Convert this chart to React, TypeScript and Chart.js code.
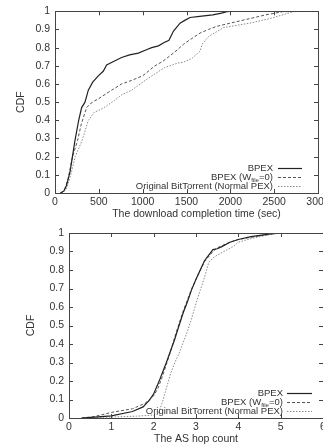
import React, { useEffect, useRef } from "react";
import { Chart, registerables } from "chart.js";

Chart.register(...registerables);

// ---------- Data: top chart (download completion time) ----------
const timeTicks = [0, 500, 1000, 1500, 2000, 2500, 3000];
const cdfTicks = [0, 0.1, 0.2, 0.3, 0.4, 0.5, 0.6, 0.7, 0.8, 0.9, 1];

const bpexTime = [60, 100, 130, 171, 228, 270, 304, 342, 380, 430, 494, 550, 589, 650, 760, 850, 950, 1050, 1103, 1180, 1240, 1300, 1350, 1426, 1480, 1540, 1650, 1800, 1900, 1960, 2000, 2500, 2900];
const bpexTimeCdf = [0, 0.01, 0.04, 0.115, 0.29, 0.40, 0.47, 0.50, 0.566, 0.61, 0.645, 0.67, 0.705, 0.72, 0.746, 0.76, 0.77, 0.79, 0.80, 0.81, 0.827, 0.84, 0.89, 0.935, 0.95, 0.966, 0.972, 0.98, 0.99, 0.998, 1, 1, 1];

const bpexW0Time = [70, 110, 150, 200, 258, 300, 361, 400, 445, 500, 646, 760, 875, 1000, 1141, 1230, 1312, 1400, 1464, 1560, 1654, 1750, 1844, 2000, 2224, 2400, 2600, 2900];
const bpexW0TimeCdf = [0, 0.02, 0.08, 0.2, 0.29, 0.38, 0.47, 0.49, 0.505, 0.52, 0.566, 0.60, 0.62, 0.645, 0.70, 0.725, 0.755, 0.79, 0.818, 0.85, 0.88, 0.90, 0.917, 0.935, 0.96, 0.98, 0.998, 1];

const origTime = [80, 130, 180, 230, 310, 380, 450, 500, 560, 680, 760, 875, 1000, 1141, 1250, 1400, 1464, 1560, 1654, 1680, 1750, 1920, 2224, 2450, 2720, 2900];
const origTimeCdf = [0, 0.02, 0.1, 0.2, 0.29, 0.40, 0.445, 0.455, 0.47, 0.51, 0.54, 0.566, 0.61, 0.656, 0.69, 0.715, 0.72, 0.74, 0.78, 0.82, 0.86, 0.91, 0.935, 0.96, 0.998, 1];

// ---------- Data: bottom chart (AS hop count) ----------
const hopTicks = [0, 1, 2, 3, 4, 5, 6];

const bpexHop = [0.3, 0.6, 1.0, 1.5, 1.75, 1.9, 2.0, 2.14, 2.3, 2.41, 2.49, 2.6, 2.7, 2.8, 2.89, 3.0, 3.1, 3.2, 3.3, 3.4, 3.5, 3.6, 3.8, 4.0, 4.3, 4.6, 4.9];
const bpexHopCdf = [0, 0.005, 0.012, 0.035, 0.06, 0.097, 0.13, 0.205, 0.30, 0.37, 0.42, 0.50, 0.57, 0.63, 0.69, 0.75, 0.80, 0.85, 0.88, 0.91, 0.915, 0.925, 0.95, 0.965, 0.98, 0.99, 1.0];

const bpexW0Hop = [0.3, 0.6, 1.0, 1.5, 1.8, 2.0, 2.1, 2.2, 2.3, 2.4, 2.5, 2.6, 2.7, 2.8, 2.9, 3.0, 3.2, 3.4, 3.5, 3.8, 4.0, 4.5, 5.0];
const bpexW0HopCdf = [0, 0.008, 0.03, 0.05, 0.08, 0.12, 0.16, 0.22, 0.29, 0.36, 0.44, 0.51, 0.58, 0.64, 0.70, 0.75, 0.845, 0.90, 0.92, 0.95, 0.965, 0.985, 1];

const origHop = [0.3, 1.0, 1.6, 2.0, 2.1, 2.2, 2.3, 2.4, 2.5, 2.6, 2.7, 2.8, 2.9, 3.0, 3.1, 3.2, 3.3, 3.4, 3.5, 3.7, 3.9, 4.0, 4.3, 4.7, 5.0];
const origHopCdf = [0, 0.005, 0.01, 0.016, 0.02, 0.08, 0.16, 0.24, 0.30, 0.35, 0.41, 0.47, 0.54, 0.62, 0.69, 0.76, 0.84, 0.865, 0.88, 0.905, 0.93, 0.95, 0.97, 0.99, 1];

// ---------- Labels ----------
const seriesLabels = ["BPEX", "BPEX (W_file=0)", "Original BitTorrent (Normal PEX)"];
const yTitle = "CDF";
const topXTitle = "The download completion time (sec)";
const bottomXTitle = "The AS hop count";

const FONT = "'Liberation Sans', Arial, sans-serif";
const TEXT = "#333";
const styles = [
  { color: "#222", dash: [] as number[], width: 1.2 },
  { color: "#555", dash: [3, 2], width: 1 },
  { color: "#8a8a8a", dash: [1.5, 1.5], width: 1 },
];

const toPts = (xs: number[], ys: number[]) => xs.map((x, i) => ({ x, y: ys[i] }));

const framePlugin = {
  id: "frame",
  afterDatasetsDraw(chart: any) {
    const { ctx, chartArea: a, scales } = chart;
    ctx.save();
    ctx.strokeStyle = "#444";
    ctx.lineWidth = 1;
    ctx.setLineDash([]);
    ctx.strokeRect(Math.round(a.left) + 0.5, Math.round(a.top) + 0.5, Math.round(a.right - a.left), Math.round(a.bottom - a.top));
    const L = 4;
    ctx.beginPath();
    scales.x.ticks.forEach((t: any) => {
      const px = Math.round(scales.x.getPixelForValue(t.value)) + 0.5;
      ctx.moveTo(px, a.bottom);
      ctx.lineTo(px, a.bottom - L);
      ctx.moveTo(px, a.top);
      ctx.lineTo(px, a.top + L);
    });
    scales.y.ticks.forEach((t: any) => {
      const py = Math.round(scales.y.getPixelForValue(t.value)) + 0.5;
      ctx.moveTo(a.left, py);
      ctx.lineTo(a.left + L, py);
      ctx.moveTo(a.right, py);
      ctx.lineTo(a.right - L, py);
    });
    ctx.stroke();
    ctx.restore();
  },
};

const xTitlePlugin = {
  id: "xTitle",
  afterDraw(chart: any, _args: any, opts: any) {
    const { ctx, chartArea: a } = chart;
    ctx.save();
    ctx.fillStyle = TEXT;
    ctx.font = `10.5px ${FONT}`;
    ctx.textAlign = "center";
    ctx.textBaseline = "middle";
    ctx.fillText(opts.text, (a.left + a.right) / 2 + opts.dx, a.bottom + opts.dy);
    ctx.restore();
  },
};

function drawLabel(ctx: CanvasRenderingContext2D, label: string, xRight: number, y: number, size: number) {
  const m = label.match(/^(.*)_(\w+)(.*)$/);
  ctx.textBaseline = "middle";
  ctx.textAlign = "left";
  if (!m) {
    ctx.font = `${size}px ${FONT}`;
    const w = ctx.measureText(label).width;
    ctx.fillText(label, xRight - w, y);
    return;
  }
  const [, pre, sub, post] = m;
  const subSize = size * 0.65;
  ctx.font = `${size}px ${FONT}`;
  const w1 = ctx.measureText(pre).width;
  const w3 = ctx.measureText(post).width;
  ctx.font = `${subSize}px ${FONT}`;
  const w2 = ctx.measureText(sub).width;
  let x = xRight - (w1 + w2 + w3);
  ctx.font = `${size}px ${FONT}`;
  ctx.fillText(pre, x, y);
  x += w1;
  ctx.font = `${subSize}px ${FONT}`;
  ctx.fillText(sub, x, y + 3);
  x += w2;
  ctx.font = `${size}px ${FONT}`;
  ctx.fillText(post, x, y);
}

const legendPlugin = {
  id: "cornerLegend",
  afterDatasetsDraw(chart: any, _args: any, opts: any) {
    const { ctx, chartArea: a } = chart;
    ctx.save();
    ctx.fillStyle = TEXT;
    chart.data.datasets.forEach((ds: any, i: number) => {
      const y = a.bottom + opts.rows[i];
      drawLabel(ctx, ds.label, a.right - opts.textRight, y, opts.size);
      ctx.beginPath();
      ctx.strokeStyle = ds.borderColor;
      ctx.lineWidth = ds.borderWidth;
      ctx.setLineDash(ds.borderDash || []);
      ctx.moveTo(a.right - opts.lineStart, y + 0.5);
      ctx.lineTo(a.right - opts.lineEnd, y + 0.5);
      ctx.stroke();
    });
    ctx.restore();
  },
};

type Cfg = {
  series: { xs: number[]; ys: number[] }[];
  xTicks: number[];
  xMax: number;
  xTitle: string;
  xTitleDx: number;
  padLeft: number;
  yWidth: number;
  padTop: number;
  padRight: number;
  legend: any;
};

function CdfChart({ cfg, width, height }: { cfg: Cfg; width: number; height: number }) {
  const ref = useRef<HTMLCanvasElement>(null);
  useEffect(() => {
    if (!ref.current) return;
    const chart = new Chart(ref.current, {
      type: "line",
      data: {
        datasets: cfg.series.map((s, i) => ({
          label: seriesLabels[i],
          data: toPts(s.xs, s.ys),
          borderColor: styles[i].color,
          borderDash: styles[i].dash,
          borderWidth: styles[i].width,
          pointRadius: 0,
          tension: 0,
          fill: false,
        })),
      },
      options: {
        animation: false,
        responsive: false,
        devicePixelRatio: 1,
        layout: { padding: { left: cfg.padLeft, right: cfg.padRight, top: cfg.padTop, bottom: 0 } },
        plugins: {
          legend: { display: false },
          tooltip: { enabled: false },
          cornerLegend: cfg.legend,
          xTitle: { text: cfg.xTitle, dx: cfg.xTitleDx, dy: 21 },
        } as any,
        scales: {
          x: {
            type: "linear",
            min: 0,
            max: cfg.xMax,
            grid: { display: false, drawTicks: false },
            border: { display: false },
            afterBuildTicks: (s: any) => {
              s.ticks = cfg.xTicks.map((v) => ({ value: v }));
            },
            afterFit: (s: any) => {
              s.height = 27;
            },
            ticks: {
              padding: 3,
              maxRotation: 0,
              autoSkip: false,
              color: TEXT,
              font: { family: FONT, size: 10.5 },
              callback: (v: any) => String(v),
            },
            title: { display: false },
          },
          y: {
            type: "linear",
            min: 0,
            max: 1,
            grid: { display: false, drawTicks: false },
            border: { display: false },
            afterBuildTicks: (s: any) => {
              s.ticks = cdfTicks.map((v) => ({ value: v }));
            },
            afterFit: (s: any) => {
              s.width = cfg.yWidth;
            },
            ticks: {
              padding: 5,
              autoSkip: false,
              color: TEXT,
              font: { family: FONT, size: 10.5 },
              callback: (v: any) => String(v),
            },
            title: {
              display: true,
              text: yTitle,
              color: TEXT,
              font: { family: FONT, size: 10.5 },
              padding: { top: 4, bottom: 4 },
            },
          },
        },
      },
      plugins: [framePlugin, legendPlugin, xTitlePlugin],
    });
    return () => chart.destroy();
  }, []);
  return <canvas ref={ref} width={width} height={height} style={{ display: "block", width, height }} />;
}

const topCfg: Cfg = {
  series: [
    { xs: bpexTime, ys: bpexTimeCdf },
    { xs: bpexW0Time, ys: bpexW0TimeCdf },
    { xs: origTime, ys: origTimeCdf },
  ],
  xTicks: timeTicks,
  xMax: 3000,
  xTitle: topXTitle,
  xTitleDx: 10,
  padLeft: 11,
  yWidth: 44,
  padTop: 8,
  padRight: 22,
  legend: { rows: [-25, -16, -7], textRight: 45, lineStart: 40, lineEnd: 16, size: 9.5 },
};

const bottomCfg: Cfg = {
  series: [
    { xs: bpexHop, ys: bpexHopCdf },
    { xs: bpexW0Hop, ys: bpexW0HopCdf },
    { xs: origHop, ys: origHopCdf },
  ],
  xTicks: hopTicks,
  xMax: 6,
  xTitle: bottomXTitle,
  xTitleDx: 0,
  padLeft: 21,
  yWidth: 48,
  padTop: 13,
  padRight: 17,
  legend: { rows: [-25, -16, -7], textRight: 40, lineStart: 36, lineEnd: 11, size: 9.5 },
};

export default function App() {
  useEffect(() => {
    document.body.style.margin = "0";
    document.body.style.background = "#fff";
  }, []);
  return (
    <div style={{ position: "relative", width: 323, height: 445, overflow: "hidden", background: "#fff" }}>
      <div style={{ position: "absolute", left: 0, top: 0 }}>
        <CdfChart cfg={topCfg} width={340} height={220} />
      </div>
      <div style={{ position: "absolute", left: 0, top: 220 }}>
        <CdfChart cfg={bottomCfg} width={340} height={225} />
      </div>
    </div>
  );
}
